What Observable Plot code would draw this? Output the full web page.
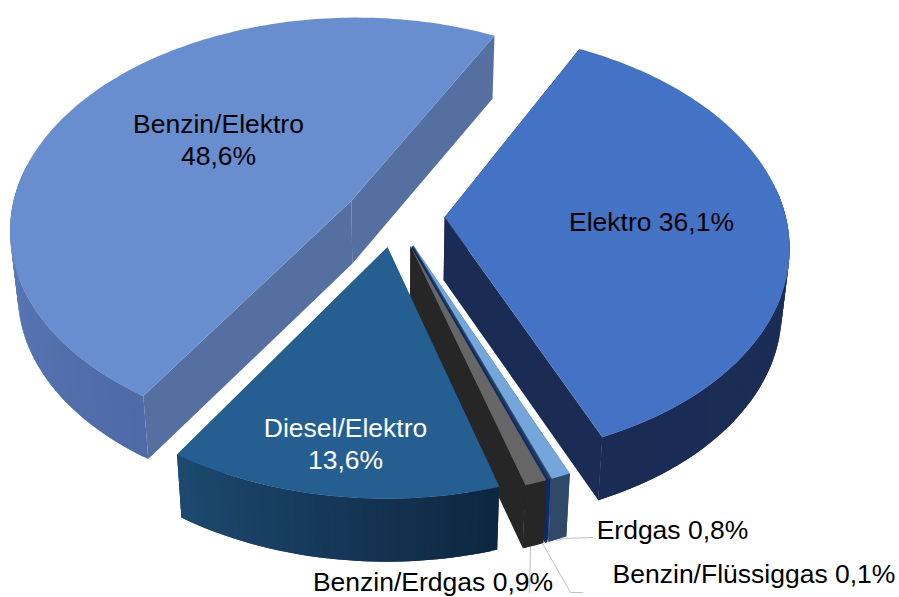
<!DOCTYPE html>
<html><head><meta charset="utf-8">
<script src="https://cdn.jsdelivr.net/npm/d3@7"></script>
<script src="https://cdn.jsdelivr.net/npm/@observablehq/plot@0.6"></script>
<style>html,body{margin:0;padding:0;background:#fff}svg{display:block}</style>
</head><body><div id="chart"></div>
<script>
// Data, clockwise from the top right
const fuels = ["Elektro","Erdgas","Benzin/Flüssiggas","Benzin/Erdgas","Diesel/Elektro","Benzin/Elektro"];
const shares = [36.1,0.8,0.1,0.9,13.6,48.6];
const shareLabels = ["36,1%","0,8%","0,1%","0,9%","13,6%","48,6%"];

// Styles, by fuel
const topColors = ["#4472c4","#74a6dc","#1f3864","#666666","#255e91","#698ed0"];
const wallFrom = ["#1a2c54","#2f4a68","#0e2a66","#262626","#1d4a70","#5f81c4"];
const wallTo = ["#1c2f5a","#2f4a68","#0e2a66","#262626","#0e2640","#4f6ba6"];
const cutColors = ["#1a2c54","#2f4a68","#0e2a66","#262626","#1d4a70","#556fa0"];
const drawOrder = [5,0,1,2,3,4];

// View of the pie
const view = {cx:394, cy:215.5, R:341, squash:0.617, persp:0.1286, explode:0.147, depth:63, lean:0.98, start:27.2};
function project(X, Y, bottom) {
  const w = 1 + view.persp * Y;
  const x = view.cx + view.R * X / w, y = view.cy - view.R * view.squash * Y / w;
  return bottom ? {x: view.cx + (x - view.cx) * view.lean, y: y + view.depth} : {x, y};
}
const rad = Math.PI / 180;
const arcs = d3.pie().sort(null).startAngle(view.start * rad).endAngle((view.start + 360) * rad)(shares);
const rows = [];
let id = 0;
function poly(pts, fill) { id++; for (const p of pts) rows.push({...p, id, fill}); }
for (const i of drawOrder) {
  const a = arcs[i], mid = (a.startAngle + a.endAngle) / 2;
  const ox = view.explode * Math.sin(mid), oy = view.explode * Math.cos(mid);
  const at = (t, b) => project(ox + Math.sin(t), oy + Math.cos(t), b);
  const apex = b => project(ox, oy, b);
  const n = Math.max(2, Math.ceil((a.endAngle - a.startAngle) / rad));
  const ts = d3.range(n + 1).map(k => a.startAngle + (a.endAngle - a.startAngle) * k / n);
  // radial cut faces
  for (const t of [a.startAngle, a.endAngle])
    poly([apex(false), at(t,false), at(t,true), apex(true)], cutColors[i]);
  // outer wall, shaded along the rim; each strip overlaps the next to hide seams
  const shade = d3.interpolateRgb(wallTo[i], wallFrom[i]);
  for (let k = 0; k < n; k++) {
    if (Math.cos(ts[k]) > 0.15) continue;
    let f = (ts[k] - a.startAngle) / (a.endAngle - a.startAngle);
    if (i === 5) f = Math.min(1, Math.max(0, (ts[k] - a.startAngle) / (90 * rad)));
    const e = ts[Math.min(n, k + 2)];
    poly([at(ts[k],false), at(e,false), at(e,true), at(ts[k],true)], shade(f));
  }
  poly([apex(false), ...ts.map(t => at(t,false))], topColors[i]);
}
// Leader lines and text placement
const leaders = [
  [{x:556,y:540},{x:564,y:538},{x:592,y:537}],
  [{x:542,y:543},{x:570,y:592},{x:582,y:592}],
  [{x:530,y:547},{x:529,y:592}]
].flatMap((l,k) => l.map(p => ({...p,k})));
const labels = [
  {text:"Benzin/Elektro\n"+shareLabels[5], x:218, y:138, fill:"#000"},
  {text:"Elektro "+shareLabels[0], x:651, y:220, fill:"#000"},
  {text:"Diesel/Elektro\n"+shareLabels[4], x:345, y:442.5, fill:"#fff"},
  {text:"Erdgas "+shareLabels[1], x:672, y:528, fill:"#000"},
  {text:"Benzin/Flüssiggas "+shareLabels[2], x:753.5, y:572, fill:"#000"},
  {text:"Benzin/Erdgas "+shareLabels[3], x:432.5, y:580.5, fill:"#000"}
];
const chart = Plot.plot({
  width:899, height:597, margin:0,
  x:{domain:[0,899], range:[0,899], axis:null},
  y:{domain:[0,597], range:[0,597], axis:null},
  color:{type:"identity"},
  style:{background:"#fff"},
  marks:[
    Plot.line(rows,{x:"x",y:"y",z:"id",fill:"fill",stroke:"none",curve:"linear"}),
    Plot.line(leaders,{x:"x",y:"y",z:"k",stroke:"#bfbfbf",strokeWidth:1,curve:"linear"}),
    Plot.text(labels,{x:"x",y:"y",text:"text",fill:"fill",fontSize:26.5,lineHeight:1.2,fontFamily:"'Liberation Sans',Arial,sans-serif"})
  ]
});
document.getElementById("chart").append(chart);
</script></body></html>
